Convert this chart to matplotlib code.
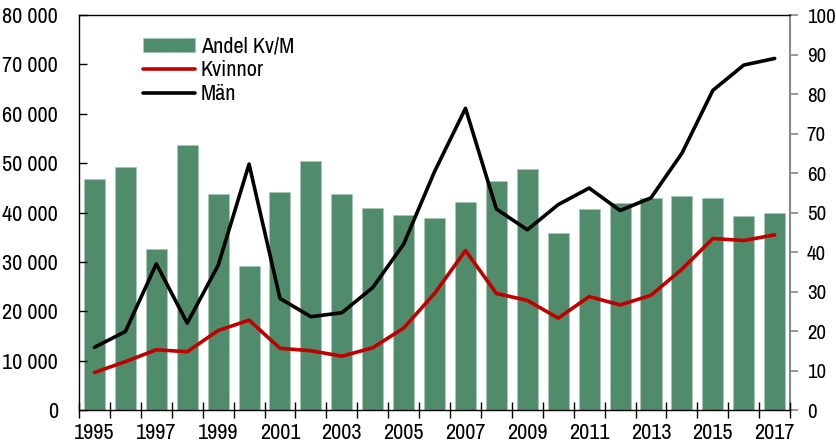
import matplotlib
matplotlib.use("Agg")
import matplotlib.pyplot as plt
from matplotlib import font_manager as fm
from matplotlib.ticker import FuncFormatter

installed = {f.name for f in fm.fontManager.ttflist}
wanted = ['Archivo Narrow', 'PT Sans Narrow', 'Roboto Condensed', 'Liberation Sans Narrow']
families = [f for f in wanted if f in installed] + ['DejaVu Sans']
plt.rcParams['font.family'] = families

years = list(range(1995, 2018))

# share of women vs men (right axis, percent)
andel = [58.6, 61.6, 40.8, 67.1, 54.7, 36.5, 55.1, 63.1, 54.6, 51.2, 49.3, 48.7,
         52.6, 58.0, 61.0, 44.9, 50.8, 52.5, 53.7, 54.1, 53.6, 49.2, 49.8]

# counts (left axis)
kvinnor = [7600, 9800, 12200, 11800, 16100, 18200, 12500, 12000, 10900, 12600, 16600, 23600,
           32300, 23600, 22200, 18600, 22970, 21280, 23240, 28510, 34730, 34330, 35470]
man = [12700, 15900, 29600, 17600, 29300, 49800, 22600, 18900, 19700, 24800, 33600, 48300,
       61100, 40700, 36500, 41600, 44950, 40400, 42970, 52000, 64730, 69860, 71200]

x = list(range(len(years)))

fig = plt.figure(figsize=(8.37, 4.48), dpi=100)
ax = fig.add_axes([0.0944, 0.0848, 0.8496, 0.8817])
ax2 = ax.twinx()

# bars on the right axis, drawn below the lines
bars = ax2.bar(x, andel, width=0.68, color='#508C6B', edgecolor='#A7C9B4', linewidth=0.6)
ax.set_zorder(ax2.get_zorder() + 1)
ax.patch.set_visible(False)

l1, = ax.plot(x, kvinnor, color='#C00000', lw=2.6, solid_capstyle='round')
l2, = ax.plot(x, man, color='black', lw=2.6, solid_capstyle='round')

ax.set_xlim(-0.5, len(years) - 0.5)
ax.set_ylim(0, 80000)
ax2.set_ylim(0, 100)

ax.set_yticks(range(0, 80001, 10000))
ax.yaxis.set_major_formatter(FuncFormatter(lambda v, p: f"{int(v):,}".replace(",", " ")))
ax2.set_yticks(range(0, 101, 10))

# ticks between the bars, labels on every other year under the bar
ax.set_xticks([i - 0.5 for i in range(len(years) + 1)])
ax.set_xticklabels([])
ax.set_xticks(x[::2], minor=True)
ax.set_xticklabels([str(y) for y in years[::2]], minor=True)
ax.tick_params(axis='x', which='major', direction='inout', length=12, width=1)
ax.tick_params(axis='x', which='minor', length=0, pad=9, labelsize=16)
ax.tick_params(axis='y', direction='in', length=6, width=1, labelsize=16, pad=15)
ax2.tick_params(axis='y', direction='out', length=6, width=1.2, color='#888888',
                labelsize=15, pad=6)

for s in ['left', 'bottom', 'top']:
    ax.spines[s].set_color('black')
    ax.spines[s].set_linewidth(1)
ax.spines['right'].set_visible(False)
for s in ['left', 'bottom', 'top']:
    ax2.spines[s].set_visible(False)
ax2.spines['right'].set_color('#888888')
ax2.spines['right'].set_linewidth(1.5)

ax.legend([bars, l1, l2], ['Andel Kv/M', 'Kvinnor', 'Män'], loc='upper left',
          bbox_to_anchor=(0.068, 0.985), frameon=False, fontsize=16,
          handlelength=2.35, handleheight=0.6, handletextpad=0.25,
          labelspacing=0.18, borderpad=0.2)

fig.savefig('out.png', dpi=100)
